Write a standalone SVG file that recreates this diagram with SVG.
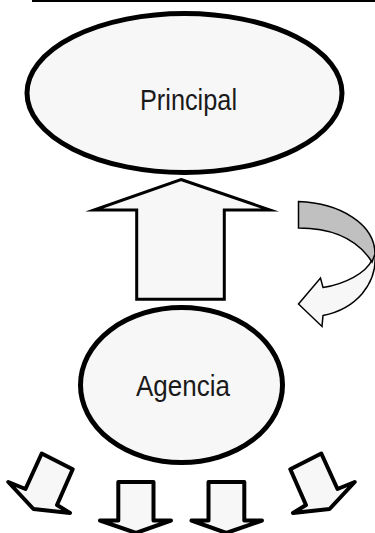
<svg xmlns="http://www.w3.org/2000/svg" width="375" height="533" viewBox="0 0 375 533">
<style>
.node{fill:#f7f7f7;stroke:#000;stroke-width:5}
.lbl{font-family:"Liberation Sans",Arial,sans-serif;font-size:29px;fill:#1a1a1a;text-anchor:middle}
.big{fill:#f7f7f7;stroke:#000;stroke-width:3;stroke-linejoin:miter;stroke-miterlimit:10}
.small{fill:#f7f7f7;stroke:#000;stroke-width:4;stroke-linejoin:round}
.curve{stroke:#000;stroke-width:1.5;stroke-linejoin:miter}
</style>
<rect width="375" height="533" fill="#fff"/>
<line x1="32" y1="1" x2="375" y2="1" stroke="#000" stroke-width="2"/>
<g id="principal">
<ellipse class="node" cx="184.5" cy="93" rx="157.5" ry="79.5"/>
<text class="lbl" x="188.5" y="110" textLength="97" lengthAdjust="spacingAndGlyphs">Principal</text>
</g>
<g id="agencia">
<ellipse class="node" cx="181.5" cy="385" rx="101" ry="77.5"/>
<text class="lbl" x="183" y="396" textLength="94" lengthAdjust="spacingAndGlyphs">Agencia</text>
</g>
<g id="connectors">
<polygon class="big" points="181,179.5 270,210 224.3,210 224.3,299.3 136.7,299.3 136.7,210 94,210"/>
<path class="curve" fill="#f7f7f7" d="M323,287.5 C345,284 366,273 372,260 L375,252 C378,285 355,309 323,315.5 L322,326.5 L298.5,304 L320.5,278 Z"/>
<path class="curve" fill="#c0c0c0" d="M298.5,201.5 C340,203 375,224 375,254 L372,262 C358,240 335,228 298.5,228 Z"/>
<polygon class="small" points="41.7,453.5 72.7,469.3 57,505 70,513 33.5,509 8.3,482 25.5,489"/>
<polygon class="small" points="321.3,453.5 290.3,469.3 306,505 293,513 329.5,509 354.7,482 337.5,489"/>
<polygon class="small" points="118.3,482 153.5,482 153.5,520.5 171,520.5 136,533 100,520.5 118.3,520.5"/>
<polygon class="small" points="208.5,482 244.3,482 244.3,520.5 262,520.5 226.3,533 191.5,520.5 208.5,520.5"/>
</g>
</svg>
